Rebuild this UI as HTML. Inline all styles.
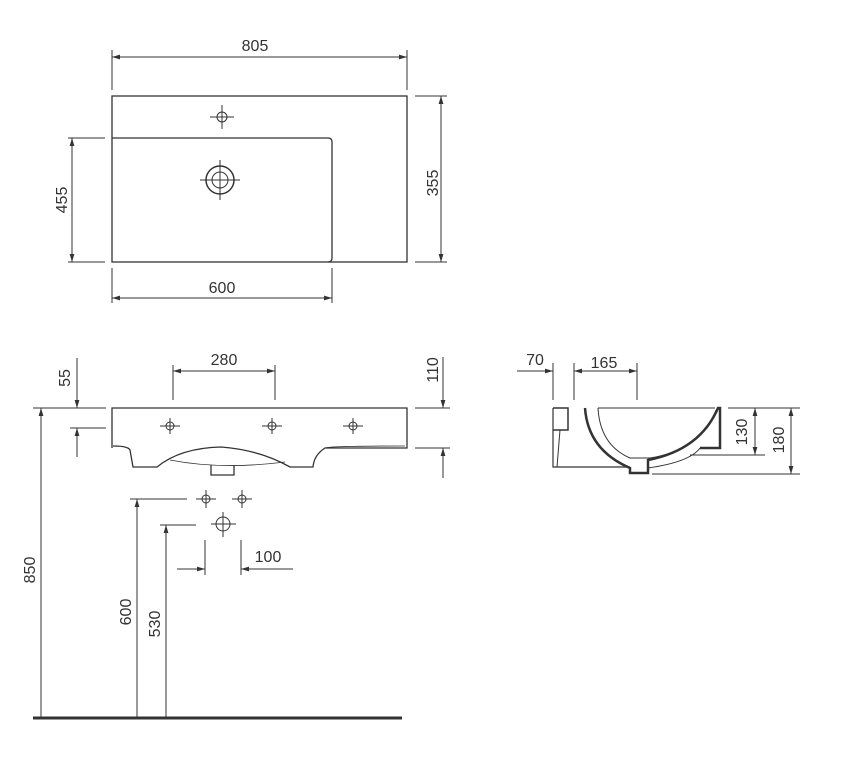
<!DOCTYPE html>
<html><head><style>body{margin:0;background:#fff}svg{display:block}text{font-family:"Liberation Sans",sans-serif;font-size:16px;fill:#333}</style></head><body>
<svg width="847" height="775" viewBox="0 0 847 775">
<defs><marker id="a" viewBox="0 0 10 10" refX="10" refY="5" markerWidth="8" markerHeight="8" orient="auto-start-reverse"><path d="M0,2L10,5L0,8z" fill="#333"/></marker></defs>
<g stroke="#333" stroke-width="1" fill="none">
<rect x="112" y="96" width="295" height="166" stroke-width="1.3"/>
<path d="M112,138H328Q332,138 332,142V258Q332,262 328,262" stroke-width="1.3"/>
<circle cx="222" cy="117" r="5"/><path d="M210,117H234M222,105V129"/>
<circle cx="220" cy="180" r="14" stroke-width="1.5"/><circle cx="220" cy="180" r="8"/><path d="M200,180H240M220,160V200"/>
<path d="M112,50V90M407,50V90"/><path d="M112,57H407" marker-start="url(#a)" marker-end="url(#a)"/>
<path d="M68,138H105M68,262H105"/><path d="M72,138V262" marker-start="url(#a)" marker-end="url(#a)"/>
<path d="M415,96H447M415,262H447"/><path d="M441,96V262" marker-start="url(#a)" marker-end="url(#a)"/>
<path d="M112,268V303M332,268V303"/><path d="M112,298H332" marker-start="url(#a)" marker-end="url(#a)"/>
<path d="M112,448V408H407V448H325Q314,455 313,467H290Q260,450 221,447Q180,448 157,467H133L130,450Q128,446 113,446" stroke-width="1.3"/>
<path d="M170,460Q221,470 285,462" stroke-width="0.8"/>
<path d="M211,465V475H234V465" stroke-width="1.3"/>
<path d="M325,448Q330,446 405,446" stroke-width="0.8"/>
<g><circle cx="170" cy="426" r="4"/><path d="M160,426H180M170,418V434"/><circle cx="272" cy="426" r="4"/><path d="M262,426H282M272,418V434"/><circle cx="353" cy="426" r="4"/><path d="M343,426H363M353,418V434"/></g>
<path d="M173,365V400M275,365V400"/><path d="M173,371H275" marker-start="url(#a)" marker-end="url(#a)"/>
<path d="M33,408H106M70,428H106"/><path d="M77,358V408" marker-end="url(#a)"/><path d="M77,457V428" marker-end="url(#a)"/>
<path d="M415,408H450M415,448H450"/><path d="M443,357V408" marker-end="url(#a)"/><path d="M443,478V448" marker-end="url(#a)"/>
<path d="M41,718V408" marker-end="url(#a)"/>
<path d="M33,718H402" stroke-width="3"/>
<circle cx="206" cy="499" r="4"/><path d="M196,499H216M206,490V508"/>
<circle cx="242" cy="499" r="4"/><path d="M232,499H252M242,490V508"/>
<circle cx="223" cy="524" r="7"/><path d="M211,524H236M223,512V537"/>
<path d="M130,499H187M160,525H196"/>
<path d="M137,718V499" marker-end="url(#a)"/><path d="M166,718V525" marker-end="url(#a)"/>
<path d="M205,540V575M241,540V575"/><path d="M177,569H205" marker-end="url(#a)"/><path d="M293,569H241" marker-end="url(#a)"/>
<path d="M553,408V467H630" stroke-width="1.2"/>
<path d="M553,408H568V430H553" stroke-width="1.5"/>
<path d="M560,430L557,467"/>
<path d="M585,408Q588,450 630,468V473H648V460Q700,450 718,408H720V448H700" stroke-width="2.5"/>
<path d="M598,408Q600,445 630,458H650Q700,450 716,410" stroke-width="1"/>
<path d="M598,408H715"/>
<path d="M648,468Q690,462 700,448"/>
<path d="M553,363V400M574,363V400M637,363V400"/>
<path d="M517,371H553" marker-end="url(#a)"/><path d="M574,371H637" marker-start="url(#a)" marker-end="url(#a)"/>
<path d="M728,408H800M690,455H765M652,474H800"/>
<path d="M755,408V455" marker-start="url(#a)" marker-end="url(#a)"/>
<path d="M791,408V474" marker-start="url(#a)" marker-end="url(#a)"/>
</g>
<text x="255" y="51" text-anchor="middle">805</text>
<text x="222" y="293" text-anchor="middle">600</text>
<text transform="translate(67,200) rotate(-90)" text-anchor="middle">455</text>
<text transform="translate(438,183) rotate(-90)" text-anchor="middle">355</text>
<text x="224" y="365" text-anchor="middle">280</text>
<text transform="translate(70,378) rotate(-90)" text-anchor="middle">55</text>
<text transform="translate(438,370) rotate(-90)" text-anchor="middle">110</text>
<text transform="translate(35,570) rotate(-90)" text-anchor="middle">850</text>
<text transform="translate(131,612) rotate(-90)" text-anchor="middle">600</text>
<text transform="translate(160,624) rotate(-90)" text-anchor="middle">530</text>
<text x="268" y="562" text-anchor="middle">100</text>
<text x="535" y="365" text-anchor="middle">70</text>
<text x="604" y="368" text-anchor="middle">165</text>
<text transform="translate(747,432) rotate(-90)" text-anchor="middle">130</text>
<text transform="translate(784,440) rotate(-90)" text-anchor="middle">180</text>
</svg>
</body></html>
